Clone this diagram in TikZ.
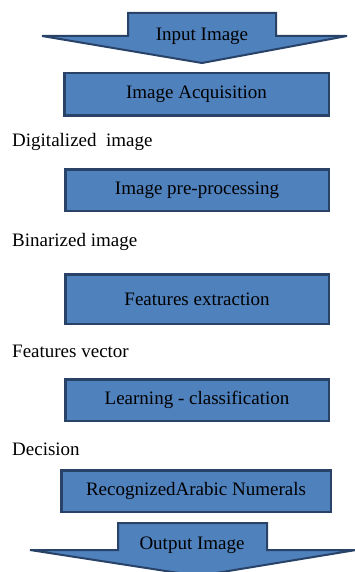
\documentclass[tikz,border=0pt]{standalone}
\usepackage{fontspec}
\setmainfont{Liberation Serif}
\definecolor{boxfill}{RGB}{79,129,189}
\definecolor{boxline}{RGB}{40,66,104}
\begin{document}
\begin{tikzpicture}[x=1pt,y=-1pt,
  every node/.style={font=\fontsize{19}{22}\selectfont, inner sep=0pt},
  stepbox/.style={draw=boxline, fill=boxfill, line width=2.5pt, rectangle},
  bigarrow/.style={draw=boxline, fill=boxfill, line width=2pt, line join=miter},
  lbl/.style={anchor=west}]
\useasboundingbox (0,0) rectangle (354,572);
% input arrow
\draw[bigarrow] (128,13) -- (276,13) -- (276,36) -- (347,36) -- (202,63) -- (42,36) -- (128,36) -- cycle;
\node (in) at (202,36) {Input Image};
% boxes
\node[stepbox, minimum width=264.5, minimum height=42.5] (b1) at (196.5,94.5) {Image Acquisition};
\node[lbl] (l1) at (12,142) {Digitalized\ \ image};
\node[stepbox, minimum width=263.5, minimum height=41.5] (b2) at (197,190) {Image pre-processing};
\node[lbl] (l2) at (12,242) {Binarized image};
\node[stepbox, minimum width=263.5, minimum height=49.5] (b3) at (197,299) {Features extraction};
\node[lbl] (l3) at (12,351) {Features vector};
\node[stepbox, minimum width=263.5, minimum height=41.5] (b4) at (197,400) {Learning - classification};
\node[lbl] (l4) at (12,449) {Decision};
\node[stepbox, minimum width=269.5, minimum height=41.5] (b5) at (196,491) {RecognizedArabic Numerals};
% output arrow
\draw[bigarrow] (118,523) -- (267,523) -- (267,550) -- (356,550) -- (198,576) -- (30,550) -- (118,550) -- cycle;
\node (out) at (192,545) {Output Image};
\end{tikzpicture}
\end{document}
